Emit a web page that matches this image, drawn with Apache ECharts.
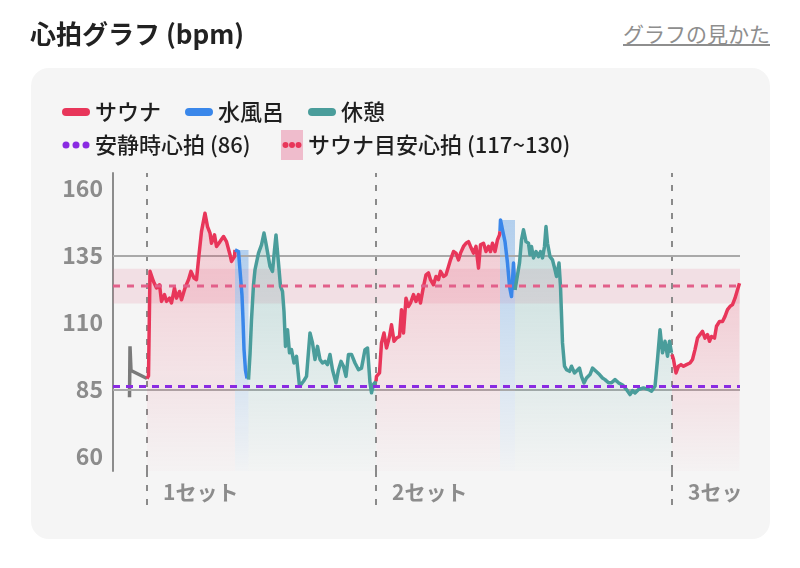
<!DOCTYPE html>
<html><head><meta charset="utf-8">
<script src="https://cdn.jsdelivr.net/npm/echarts@6/dist/echarts.min.js"></script>
<style>
html,body{margin:0;padding:0;background:#fff;}
#wrap{position:relative;width:800px;height:568px;overflow:hidden;font-family:'Noto Sans CJK JP','Noto Sans',sans-serif;}
#card{position:absolute;left:31px;top:68px;width:739px;height:471px;background:#f5f5f5;border-radius:18px;}
#link{position:absolute;right:30px;top:21px;font-size:21px;line-height:24px;color:#8e8e8e;text-decoration:underline;}
#chart{position:absolute;left:0;top:0;width:800px;height:568px;}
</style></head>
<body><div id="wrap"><div id="card"></div><div id="link">グラフの見かた</div><div id="chart"></div></div>
<script>
// ---- data (time in minutes, heart rate in bpm) ----
const xMax = 125.4;
const yMin = 54.5, yMax = 165.7;
const yTicks = [60, 85, 110, 135, 160];
const setTimes = [6.8, 52.6, 111.8];
const setLabels = ['1セット', '2セット', '3セット'];
const restingHR = 86;
const targetLow = 117, targetHigh = 130, targetMid = 123.5;
const refLines = [135, 85];

const warmup = [[3.3,82],[3.4,101],[3.6,92],[6.8,89]];
const sauna1 = [[6.8,89],[7.1,90],[7.4,129],[8.1,125.2],[8.7,122.8],[9.3,124],[9.7,117.8],[10.3,120.3],[10.7,117.8],[11.3,119],[11.7,117.2],[12.3,122.8],[12.7,119],[13.3,121.5],[13.7,118.4],[14.4,122.8],[15.1,125.9],[15.6,129],[16.2,126.5],[16.7,125.9],[17.2,135.2],[17.7,143.9],[18.4,150.7],[18.9,145.7],[19.4,143.3],[19.7,139.5],[20.3,142.6],[20.7,138.3],[21.4,140.1],[22.1,142],[22.7,140.1],[23.4,135.2],[23.7,132.7],[24.3,134.5],[24.4,137]];
const water1 = [[24.4,137],[25.1,136.4],[25.4,136],[25.8,120],[26.0,111],[26.2,100],[26.5,92],[26.8,89],[27.1,88.6]];
const rest1 = [[27.1,88.6],[27.4,98],[27.7,111],[28.1,124],[28.4,129.6],[29.1,135.8],[29.7,138.9],[30.2,143.3],[30.7,138.3],[31.4,130.8],[31.9,129],[32.3,137],[32.6,142.6],[33.1,132.1],[33.5,123.4],[33.9,121.5],[34.2,114],[34.5,101],[34.9,107.2],[35.3,98.6],[35.7,99.8],[36.2,94.8],[36.7,97.3],[37.3,86.1],[38.1,88],[38.7,89.8],[39.4,106],[39.9,102.3],[40.4,96.1],[40.9,101],[41.4,96.1],[41.9,94.8],[42.4,95.4],[42.9,94.2],[43.4,98],[43.9,92.3],[44.6,87.4],[45.1,92.3],[45.6,95.4],[46.1,93.6],[46.6,89.8],[47.1,98],[47.7,98],[48.4,94.8],[49.1,92.3],[49.7,92.9],[50.4,99.8],[50.9,100.4],[51.4,87.4],[51.7,83.7],[52.1,86.8],[52.6,88]];
const sauna2 = [[52.6,88],[52.7,89.8],[53.3,91.1],[53.7,102.3],[54.2,106],[54.7,100.4],[55.3,104.7],[55.7,109.1],[56.2,102.9],[56.7,104.1],[57.3,104.7],[57.7,114.7],[58.1,106],[58.6,119],[59.1,115.9],[59.5,117.2],[60.1,120.3],[60.6,117.8],[61.1,120.3],[61.5,117.2],[62.1,123.4],[62.6,127.7],[63.1,128.4],[63.5,125.9],[64.1,124],[64.6,127.1],[65.1,125.9],[65.5,129],[66.1,127.1],[66.6,127.7],[67.1,130.8],[67.5,133.3],[68.1,136.4],[68.6,135.8],[69.1,133.3],[69.5,135.8],[70.1,138.3],[70.6,139.5],[71.1,140.1],[71.5,138.3],[72.1,135.8],[72.6,138.3],[73.1,130.2],[73.5,138.9],[74.1,139.5],[74.6,136.4],[75.1,138.3],[75.5,136.4],[75.9,139.5],[76.4,136.4],[76.9,140.8],[77.3,142.6],[77.4,144]];
const water2 = [[77.4,144],[77.5,148.2],[77.9,144.5],[78.4,140.1],[78.9,132.1],[79.3,123.4],[79.7,119.6],[80.1,132.1],[80.4,122.1]];
const rest2 = [[80.4,122.1],[80.7,122.8],[81.3,132.1],[81.7,140.8],[82.1,144.5],[82.6,140.1],[83.1,139.5],[83.4,135.2],[83.7,138.3],[84.1,134],[84.6,136.4],[85.1,134.5],[85.5,136.4],[85.9,134],[86.3,138.3],[86.6,145.7],[86.9,139.5],[87.4,134.5],[87.9,133.3],[88.4,129.6],[88.7,127.1],[89.2,132.1],[89.5,123.4],[89.9,102.3],[90.3,93.6],[90.7,92.3],[91.3,91.7],[91.7,93.6],[92.3,91.1],[92.7,90.5],[93.3,92.9],[93.7,89.8],[94.2,87.4],[94.7,89.2],[95.4,90.5],[95.9,92.9],[96.6,91.7],[97.3,90.5],[97.9,89.2],[98.4,88.6],[99.1,87.4],[99.7,87.4],[100.4,88.6],[101.1,87.4],[101.4,87.2],[102,86.5],[102.7,84.9],[103.4,83],[103.9,84.5],[104.4,83.6],[105.1,84.9],[106.1,85.5],[107.1,84.9],[107.7,84.3],[108.4,86.1],[108.9,96.1],[109.4,107.2],[109.9,98.6],[110.4,102.9],[110.9,97.3],[111.3,102.9],[111.7,98.6],[111.8,98]];
const sauna3 = [[111.8,98],[112.1,96.1],[112.6,91.1],[113.1,93.6],[113.6,94.2],[114.1,93.6],[114.7,94.2],[115.4,94.8],[115.9,96.1],[116.4,99.8],[116.9,104.1],[117.4,105.4],[117.9,106.6],[118.4,104.1],[118.9,105.4],[119.3,102.9],[119.7,104.7],[120.3,104.1],[120.7,108.5],[121.3,110.3],[121.9,110.3],[122.4,112.2],[122.9,114.7],[123.4,115.9],[123.9,116.6],[124.4,119],[124.9,122.1],[125.3,124.6]];

// ---- styling ----
const FONT = "'Noto Sans CJK JP','Noto Sans',sans-serif";
const RED = '#e8365a', BLUE = '#3a87ea', TEAL = '#4a9d9b', GRAY = '#7a7a7a', PURPLE = '#8a2be2', PINK = '#e2608a';
const svgIcon = s => 'image://data:image/svg+xml;charset=utf-8,' + encodeURIComponent(s);
const pill = c => svgIcon(`<svg xmlns="http://www.w3.org/2000/svg" width="28" height="8" viewBox="0 0 28 8"><rect width="28" height="8" rx="4" fill="${c}"/></svg>`);
const dots = svgIcon(`<svg xmlns="http://www.w3.org/2000/svg" width="28" height="8" viewBox="0 0 28 8"><circle cx="4" cy="4" r="3.5" fill="${PURPLE}"/><circle cx="14" cy="4" r="3.5" fill="${PURPLE}"/><circle cx="24" cy="4" r="3.5" fill="${PURPLE}"/></svg>`);
const boxDots = svgIcon(`<svg xmlns="http://www.w3.org/2000/svg" width="22" height="30" viewBox="0 0 22 30"><rect width="22" height="30" fill="rgba(232,120,155,0.45)"/><circle cx="4.5" cy="15" r="3" fill="${RED}"/><circle cx="11" cy="15" r="3" fill="${RED}"/><circle cx="17.5" cy="15" r="3" fill="${RED}"/></svg>`);

function grad(rgb, a0, a1) {
  return new echarts.graphic.LinearGradient(0, 0, 0, 1, [
    { offset: 0, color: `rgba(${rgb},${a0})` },
    { offset: 1, color: `rgba(${rgb},${a1})` }
  ]);
}

const segments = [
  { name: 'サウナ', data: sauna1, kind: 'sauna' },
  { name: '水風呂', data: water1, kind: 'water' },
  { name: '休憩', data: rest1, kind: 'rest' },
  { name: 'サウナ', data: sauna2, kind: 'sauna' },
  { name: '水風呂', data: water2, kind: 'water' },
  { name: '休憩', data: rest2, kind: 'rest' },
  { name: 'サウナ', data: sauna3, kind: 'sauna' }
];
const kindColor = { sauna: RED, water: BLUE, rest: TEAL };
const kindFill = { sauna: ['232,57,92', 0.32, 0.02], rest: ['72,160,155', 0.38, 0.02] };

const series = [];
series.push({
  name: 'サウナ目安心拍 (117~130)', type: 'line', data: [[0, targetMid], [xMax, targetMid]],
  showSymbol: false, z: 6, silent: true,
  itemStyle: { color: PINK },
  lineStyle: { color: PINK, width: 3, type: [7, 7] },
  markArea: { silent: true, itemStyle: { color: 'rgba(232,110,145,0.16)' },
    data: [[{ yAxis: targetLow }, { yAxis: targetHigh }]] }
});
series.push({
  name: '入室前', type: 'line', data: warmup, showSymbol: false, z: 4,
  itemStyle: { color: GRAY }, lineStyle: { color: GRAY, width: 3.5 },
  markLine: {
    silent: true, symbol: ['none', 'none'], label: { show: false },
    data: [
      ...setTimes.map(t => ({ xAxis: t, lineStyle: { color: '#8a8a8a', width: 2, type: [6, 8] } })),
      ...refLines.map(v => ({ yAxis: v, lineStyle: { color: '#a9a9a9', width: 2, type: 'solid' } }))
    ]
  }
});
segments.forEach(seg => {
  const c = kindColor[seg.kind];
  const s = {
    name: seg.name, type: 'line', data: seg.data, showSymbol: false, z: 5,
    itemStyle: { color: c }, lineStyle: { color: c, width: 3.5, join: 'round' }
  };
  if (seg.kind === 'water') {
    const vals = seg.data.map(d => d[1]);
    s.markArea = { silent: true, itemStyle: { color: grad('70,145,225', 0.38, 0.02) },
      data: [[{ coord: [seg.data[0][0], yMin] }, { coord: [seg.data[seg.data.length - 1][0], Math.max(...vals)] }]] };
  } else {
    const f = kindFill[seg.kind];
    s.areaStyle = { color: grad(f[0], f[1], f[2]) };
  }
  series.push(s);
});
series.push({
  name: '安静時心拍 (86)', type: 'line', data: [[0, restingHR], [xMax, restingHR]],
  showSymbol: false, z: 7, silent: true,
  itemStyle: { color: PURPLE }, lineStyle: { color: PURPLE, width: 3, type: [7, 6] }
});

const legendText = { fontSize: 22, fontWeight: 500, color: '#1f1f1f', fontFamily: FONT };
const chart = echarts.init(document.getElementById('chart'), null, { renderer: 'canvas' });
chart.setOption({
  animation: false,
  backgroundColor: 'transparent',
  textStyle: { fontFamily: FONT },
  title: { text: '心拍グラフ (bpm)', left: 30, top: 21, padding: 0,
    textStyle: { fontSize: 26, fontWeight: 'bold', color: '#222', fontFamily: FONT } },
  legend: [
    { left: 62, top: 101, padding: 0, itemWidth: 28, itemHeight: 8, itemGap: 24, selectedMode: false,
      textStyle: legendText,
      data: [{ name: 'サウナ', icon: pill(RED) }, { name: '水風呂', icon: pill(BLUE) }, { name: '休憩', icon: pill(TEAL) }] },
    { left: 62, top: 134, padding: 0, itemWidth: 28, itemHeight: 8, selectedMode: false,
      textStyle: legendText, data: [{ name: '安静時心拍 (86)', icon: dots }] },
    { left: 281, top: 130, padding: 0, itemWidth: 22, itemHeight: 30, selectedMode: false,
      textStyle: legendText, data: [{ name: 'サウナ目安心拍 (117~130)', icon: boxDots }] }
  ],
  grid: { left: 113, right: 60, top: 173, bottom: 97 },
  xAxis: {
    type: 'value', min: 0, max: xMax,
    axisLine: { show: false }, splitLine: { show: false },
    axisTick: { show: true, customValues: setTimes, length: 34, inside: false,
      lineStyle: { color: '#8a8a8a', width: 2, type: [6, 8] } },
    axisLabel: { customValues: setTimes, formatter: v => setLabels[setTimes.indexOf(v)],
      align: 'left', padding: [0, 0, 0, 16], margin: 11,
      fontSize: 21, fontWeight: 600, color: '#8c8c8c', fontFamily: FONT }
  },
  yAxis: {
    type: 'value', min: yMin, max: yMax,
    axisLine: { show: true, lineStyle: { color: '#8c8c8c', width: 2 } },
    axisTick: { show: false }, splitLine: { show: false },
    axisLabel: { customValues: yTicks, fontSize: 23, fontWeight: 600, color: '#8c8c8c', margin: 10, fontFamily: FONT }
  },
  graphic: [{ type: 'rect', right: 31, top: 476, z: 100, silent: true,
    shape: { width: 29, height: 32 }, style: { fill: '#f5f5f5' } }],
  series: series
});
</script>
</body></html>
